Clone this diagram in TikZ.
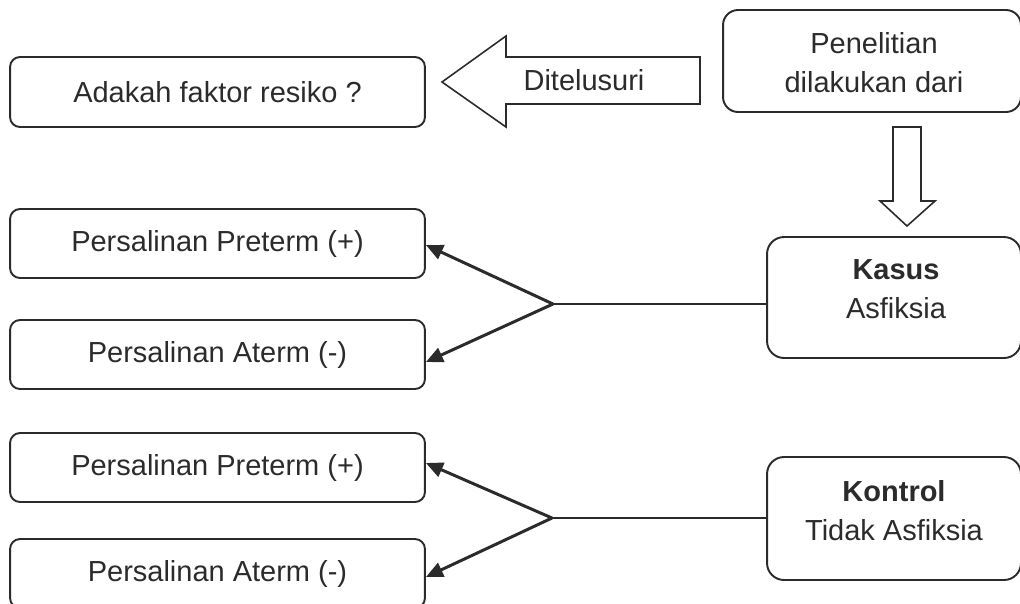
\documentclass[tikz,border=0pt]{standalone}
\usepackage{fontspec}
\setmainfont{Liberation Sans}
\usetikzlibrary{
    arrows.meta,
    positioning,
    calc
}
\definecolor{inkgray}{RGB}{43,43,43}
\tikzset{
    smallbox/.style={draw=inkgray, line width=1.1pt, rounded corners=0.2cm,
        minimum width=8.3cm, minimum height=1.38cm, inner sep=0pt, text=inkgray},
    bigbox/.style={draw=inkgray, line width=1.1pt, rounded corners=0.34cm,
        minimum width=5.08cm, inner sep=0pt},
    boxtext/.style={text=inkgray, align=center, inner sep=0pt},
    blockarrow/.style={draw=inkgray, line width=0.9pt, fill=white, line join=miter},
    branch/.style={draw=inkgray, line width=1.7pt, -{Triangle[length=0.34cm,width=0.3cm]}},
}

\begin{document}
\begin{tikzpicture}[x=0.02cm, y=-0.02cm,
    every node/.style={font=\fontsize{16.5}{22.2}\selectfont}]
    \useasboundingbox (0,0) rectangle (1020,603);
    \clip (0,0) rectangle (1020,603);

    % left column
    \node[smallbox, minimum height=1.4cm] (risk) at (217.5,92) {Adakah faktor resiko ?};
    \node[smallbox] (pre1) at (217.5,243.5) {Persalinan Preterm (+)};
    \node[smallbox] (ate1) at (217.5,354.5) {Persalinan Aterm (-)};
    \node[smallbox] (pre2) at (217.5,467.5) {Persalinan Preterm (+)};
    \node[smallbox] (ate2) at (217.5,573.5) {Persalinan Aterm (-)};

    % right column
    \node[bigbox, minimum width=5.96cm, minimum height=2.04cm, rounded corners=0.3cm] (riset) at (872,61) {};
    \node[boxtext] (risettxt) at (874,62.5) {Penelitian\\dilakukan dari};
    \node[bigbox, minimum height=2.42cm] (kasus) at (894,297.5) {};
    \node[boxtext] (kasustxt) at (896,289) {\textbf{Kasus}\\Asfiksia};
    \node[bigbox, minimum height=2.46cm] (kontrol) at (894,518.5) {};
    \node[boxtext] (kontroltxt) at (894,510.5) {\textbf{Kontrol}\\Tidak Asfiksia};

    %% Block arrows
    \draw[blockarrow] (442,82) -- (506,36) -- (506,57) -- (700,57) -- (700,104)
        -- (506,104) -- (506,127) -- cycle;
    \node[boxtext] (trace) at (584,80) {Ditelusuri};
    \draw[blockarrow] (893,127) -- (921,127) -- (921,201) -- (935,201) -- (907,226)
        -- (880,201) -- (893,201) -- cycle;

    %% Branches
    \coordinate (jkasus) at (553,304);
    \coordinate (jkontrol) at (552,518);
    \draw[inkgray, line width=1.1pt] (kasus.west |- jkasus) -- (jkasus);
    \draw[branch] (jkasus) -- ([yshift=-0.03cm]pre1.east);
    \draw[branch] (jkasus) -- ([yshift=-0.15cm]ate1.east);
    \draw[inkgray, line width=1.1pt] (kontrol.west |- jkontrol) -- (jkontrol);
    \draw[branch] (jkontrol) -- ([yshift=0.09cm]pre2.east);
    \draw[branch] (jkontrol) -- ([yshift=-0.07cm]ate2.east);
\end{tikzpicture}
\end{document}
